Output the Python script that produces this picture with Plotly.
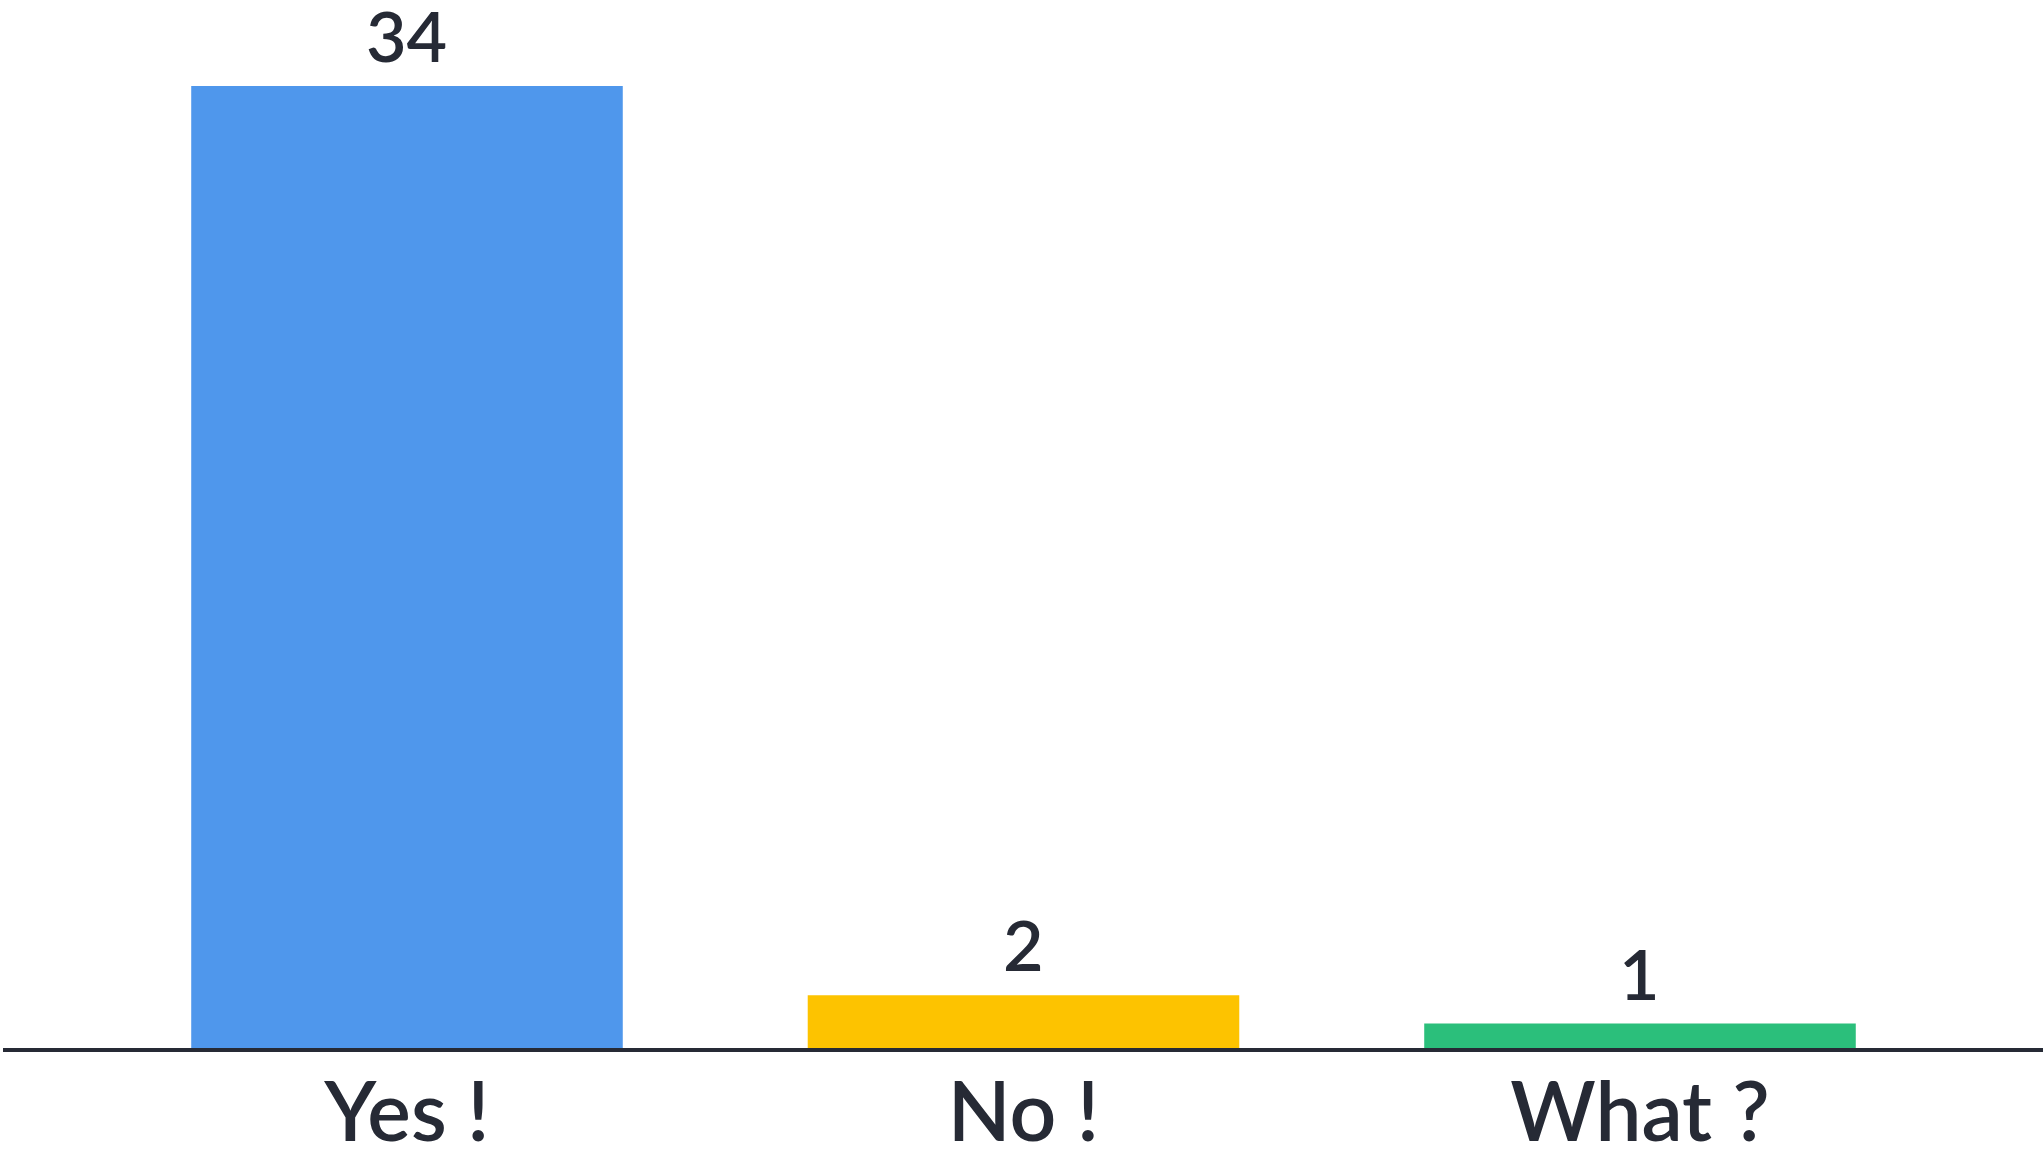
import plotly.graph_objects as go

categories = ["Yes !", "No !", "What ?"]
values = [34, 2, 1]
colors = ["#4f97ec", "#fdc300", "#2bbf7b"]

TEXT_COLOR = "#262a35"
FONT = "Lato"

fig = go.Figure()
fig.add_trace(go.Bar(
    x=categories,
    y=values,
    marker=dict(color=colors, line=dict(width=0)),
    hoverinfo="x+y",
))

for c, v in zip(categories, values):
    fig.add_annotation(
        x=c, y=v, xref="x", yref="y",
        text=str(v), showarrow=False,
        yanchor="bottom", yshift=7,
        font=dict(family=FONT, size=70, color=TEXT_COLOR, weight=600),
    )

fig.add_shape(
    type="line", xref="paper", yref="y",
    x0=0, x1=1, y0=0, y1=0,
    line=dict(color=TEXT_COLOR, width=8),
    layer="above",
)

fig.update_layout(
    width=2043, height=1149,
    margin=dict(l=3, r=0, t=0, b=97, autoexpand=False),
    paper_bgcolor="white",
    plot_bgcolor="white",
    bargap=0.3,
    showlegend=False,
    font=dict(family=FONT, color=TEXT_COLOR),
)
fig.update_xaxes(
    range=[-0.6553, 2.6537],
    automargin=False,
    showgrid=False, zeroline=False, showline=False,
    ticks="",
    ticklabelstandoff=6,
    tickfont=dict(family=FONT, size=82, color=TEXT_COLOR, weight=600),
    fixedrange=True,
)
fig.update_yaxes(
    range=[0, 37.03],
    automargin=False,
    showgrid=False, zeroline=False, showline=False,
    showticklabels=False, ticks="",
    fixedrange=True,
)

fig.write_html("out.html", config={"displayModeBar": False})
